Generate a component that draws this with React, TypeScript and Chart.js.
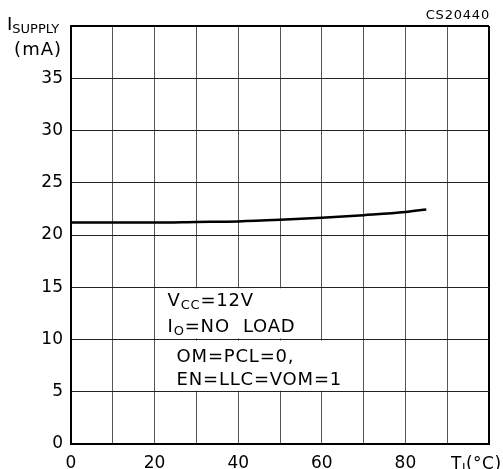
import React, { useEffect, useRef } from "react";
import { Chart, registerables } from "chart.js";

Chart.register(...registerables);

const temperatures = [0, 10, 20, 30, 40, 50, 60, 70, 80, 85];
const supplyCurrent = [21.2, 21.2, 21.2, 21.25, 21.3, 21.45, 21.65, 21.9, 22.2, 22.45];
const xTickLabels = [0, 20, 40, 60, 80];
const yTickLabels = [0, 5, 10, 15, 20, 25, 30, 35];
const noteLines1 = ["V|CC|=12V", "I|O|=NO  LOAD"];
const noteLines2 = ["OM=PCL=0,", "EN=LLC=VOM=1"];

const FONT = '"DejaVu Sans", sans-serif';

function drawRich(ctx: CanvasRenderingContext2D, text: string, x: number, y: number, size: number, spacing: number) {
  const parts = text.split("|");
  let cx = x;
  parts.forEach((p, i) => {
    const sub = i % 2 === 1;
    const fs = sub ? Math.round(size * 0.7) : size;
    ctx.font = `${fs}px ${FONT}`;
    (ctx as any).letterSpacing = `${spacing}px`;
    ctx.fillText(p, cx, sub ? y + size * 0.18 : y);
    cx += ctx.measureText(p).width;
  });
  (ctx as any).letterSpacing = "0px";
}

const annotations = {
  id: "annotations",
  beforeDatasetsDraw(chart: any) {
    const { ctx, scales } = chart;
    const x = scales.x, y = scales.y;
    ctx.save();
    ctx.fillStyle = "#fff";
    ctx.fillRect(x.getPixelForValue(20) + 1, y.getPixelForValue(15) + 1,
      x.getPixelForValue(60) - x.getPixelForValue(20) - 2, y.getPixelForValue(10) - y.getPixelForValue(15) - 2);
    ctx.fillRect(x.getPixelForValue(20) + 1, y.getPixelForValue(10) + 1,
      x.getPixelForValue(70) - x.getPixelForValue(20) - 2, y.getPixelForValue(5) - y.getPixelForValue(10) - 2);
    ctx.restore();
  },
  afterDraw(chart: any) {
    const { ctx, scales } = chart;
    const x = scales.x, y = scales.y;
    ctx.save();
    ctx.fillStyle = "#000";
    ctx.textBaseline = "alphabetic";
    ctx.textAlign = "left";
    const x20 = x.getPixelForValue(20);
    const y15 = y.getPixelForValue(15);
    const y10 = y.getPixelForValue(10);
    drawRich(ctx, noteLines1[0], x20 + 13, y15 + 19, 18, 0.8);
    drawRich(ctx, noteLines1[1], x20 + 13, y15 + 45, 18, 0.8);
    drawRich(ctx, noteLines2[0], x20 + 22, y10 + 22, 18, 0.8);
    drawRich(ctx, noteLines2[1], x20 + 22, y10 + 45, 18, 0.8);

    drawRich(ctx, "I|SUPPLY|", 7, 30, 18, 0);
    ctx.font = `18px ${FONT}`;
    ctx.textAlign = "right";
    (ctx as any).letterSpacing = "1px";
    ctx.fillText("(mA)", 62, 55);
    (ctx as any).letterSpacing = "0px";

    ctx.font = `13px ${FONT}`;
    ctx.textAlign = "right";
    (ctx as any).letterSpacing = "0.8px";
    ctx.fillText("CS20440", 490, 19);
    (ctx as any).letterSpacing = "0px";

    ctx.textAlign = "left";
    drawRich(ctx, "T|J|(°C)", 451, 469, 17, 0.5);
    ctx.restore();
  },
};

export default function App() {
  const ref = useRef<HTMLCanvasElement>(null);
  useEffect(() => {
    document.body.style.margin = "0";
    const chart = new Chart(ref.current!, {
      type: "line",
      data: {
        datasets: [
          {
            data: temperatures.map((t, i) => ({ x: t, y: supplyCurrent[i] })),
            borderColor: "#000",
            borderWidth: 2.5,
            pointRadius: 0,
            tension: 0.4,
            cubicInterpolationMode: "monotone",
            fill: false,
          },
        ],
      },
      options: {
        animation: false,
        responsive: false,
        layout: { padding: { top: 26, right: 14, left: 0, bottom: 0 } },
        plugins: { legend: { display: false }, tooltip: { enabled: false } },
        scales: {
          x: {
            type: "linear",
            min: 0,
            max: 100,
            afterFit(s: any) { s.height = 25; },
            ticks: {
              stepSize: 10,
              padding: 9,
              maxRotation: 0,
              autoSkip: false,
              color: "#000",
              font: { family: FONT, size: 17 },
              callback: (v: any) => (xTickLabels.includes(Number(v)) ? String(v) : ""),
            },
            grid: {
              drawTicks: false,
              color: (c: any) => (c.tick && (c.tick.value === 0 || c.tick.value === 100) ? "#000" : "#555"),
              lineWidth: (c: any) => (c.tick && (c.tick.value === 0 || c.tick.value === 100) ? 2 : 1),
            },
            border: { display: true, color: "#000", width: 2 },
          },
          y: {
            type: "linear",
            min: 0,
            max: 40,
            afterFit(s: any) { s.width = 71; },
            ticks: {
              stepSize: 5,
              padding: 8,
              autoSkip: false,
              color: "#000",
              font: { family: FONT, size: 17 },
              callback: (v: any) => (yTickLabels.includes(Number(v)) ? String(v) : ""),
            },
            grid: {
              drawTicks: false,
              color: (c: any) => (c.tick && (c.tick.value === 0 || c.tick.value === 40) ? "#000" : "#222"),
              lineWidth: (c: any) => (c.tick && (c.tick.value === 0 || c.tick.value === 40) ? 2 : 1),
            },
            border: { display: true, color: "#000", width: 2 },
          },
        },
      },
      plugins: [annotations],
    });
    return () => chart.destroy();
  }, []);
  return <canvas ref={ref} width={503} height={469} />;
}
